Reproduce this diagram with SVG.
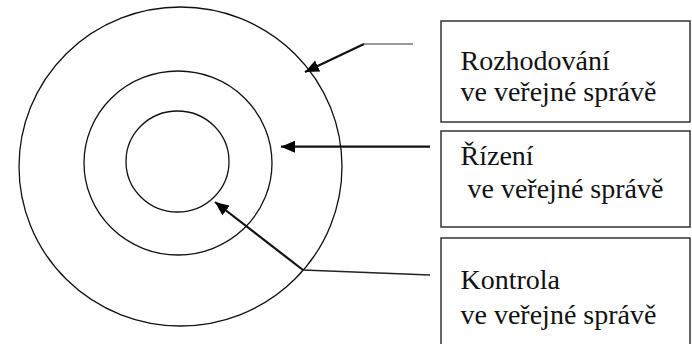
<svg xmlns="http://www.w3.org/2000/svg" width="692" height="344" viewBox="0 0 692 344">
<defs>
<style>
.ring{fill:none;stroke:#111;stroke-width:1.3}
.box{fill:#fff;stroke:#333;stroke-width:1.5}
.lbl{font-family:'Liberation Serif','DejaVu Serif',serif;font-size:28px;fill:#111}
.arr{fill:none;stroke:#111;stroke-width:2.2}
.lead{fill:none;stroke:#777;stroke-width:1.3}
.lead2{fill:none;stroke:#222;stroke-width:1.3}
</style>
<marker id="ah" viewBox="0 0 14 12" refX="14" refY="6" markerWidth="14" markerHeight="12" markerUnits="userSpaceOnUse" orient="auto">
<path d="M0,0 L14,6 L0,12 Z" fill="#000"/>
</marker>
</defs>
<rect width="692" height="344" fill="#fff"/>
<g id="rings">
<ellipse class="ring" cx="180.5" cy="166.5" rx="161.5" ry="159.5"/>
<ellipse class="ring" cx="178" cy="163" rx="94" ry="92"/>
<ellipse class="ring" cx="177.5" cy="161.5" rx="51.5" ry="50.5"/>
</g>
<g id="connectors">
<path class="lead" d="M413,44 L364,44"/>
<path class="arr" d="M364,44 L305,72" marker-end="url(#ah)"/>
<path class="arr" d="M430,146.7 L281,146.7" marker-end="url(#ah)"/>
<path class="lead2" d="M430,275 L303,270"/>
<path class="arr" d="M303,270 L215,202" marker-end="url(#ah)"/>
</g>
<g id="box-rozhodovani">
<rect class="box" x="441" y="21" width="249" height="101"/>
<text class="lbl" font-family="Liberation Serif, serif" x="460.5" y="70">Rozhodování</text>
<text class="lbl" font-family="Liberation Serif, serif" x="460.5" y="101">ve veřejné správě</text>
</g>
<g id="box-rizeni">
<rect class="box" x="441" y="131" width="249" height="96"/>
<text class="lbl" font-family="Liberation Serif, serif" x="460.5" y="165">Řízení</text>
<text class="lbl" font-family="Liberation Serif, serif" x="467.5" y="198">ve veřejné správě</text>
</g>
<g id="box-kontrola">
<rect class="box" x="441" y="238" width="249" height="110"/>
<text class="lbl" font-family="Liberation Serif, serif" x="460.5" y="289">Kontrola</text>
<text class="lbl" font-family="Liberation Serif, serif" x="460.5" y="324">ve veřejné správě</text>
</g>
</svg>
